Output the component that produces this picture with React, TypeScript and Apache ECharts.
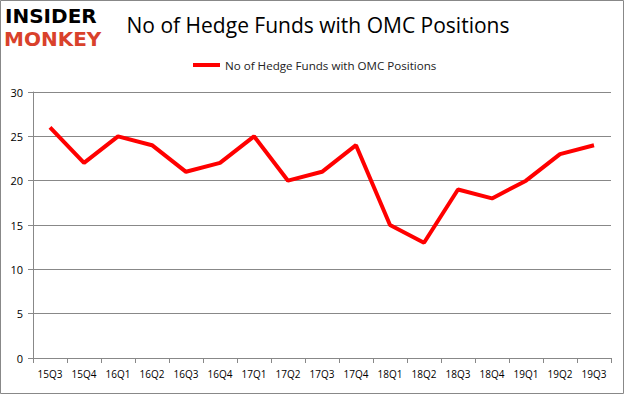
import React, { useEffect, useRef } from "react";
import * as echarts from "echarts";

const categories = ["15Q3","15Q4","16Q1","16Q2","16Q3","16Q4","17Q1","17Q2","17Q3","17Q4","18Q1","18Q2","18Q3","18Q4","19Q1","19Q2","19Q3"];
const hedgeFunds = [26, 22, 25, 24, 21, 22, 25, 20, 21, 24, 15, 13, 19, 18, 20, 23, 24];
const seriesName = "No of Hedge Funds with OMC Positions";
const titleText = "No of Hedge Funds with OMC Positions";

export default function App() {
  const ref = useRef<HTMLDivElement>(null);
  useEffect(() => {
    const chart = echarts.init(ref.current!, null, { renderer: "svg" });
    chart.setOption({
      animation: false,
      backgroundColor: "#fff",
      textStyle: { fontFamily: "Open Sans" },
      title: {
        text: titleText,
        left: 313,
        textAlign: "center",
        top: 9,
        textStyle: { fontFamily: "Open Sans", fontSize: 21, fontWeight: "normal", color: "#000" },
      },
      legend: {
        data: [seriesName],
        top: 54,
        left: 188,
        itemWidth: 27,
        itemHeight: 4,
        itemGap: 6,
        icon: "rect",
        textStyle: { fontFamily: "Open Sans", fontSize: 11.6, color: "#222" },
      },
      grid: { left: 33, right: 14, top: 92, bottom: 37 },
      xAxis: {
        type: "category",
        data: categories,
        boundaryGap: true,
        axisLine: { lineStyle: { color: "#888" } },
        axisTick: { show: true, alignWithLabel: false, interval: 0, length: 5, lineStyle: { color: "#888" } },
        axisLabel: { color: "#000", fontFamily: "Open Sans", fontSize: 10, margin: 11, interval: 0 },
      },
      yAxis: {
        type: "value",
        min: 0,
        max: 30,
        interval: 5,
        axisLine: { show: true, lineStyle: { color: "#888" } },
        axisTick: { show: true, length: 5, lineStyle: { color: "#888" } },
        axisLabel: { color: "#000", fontFamily: "Open Sans", fontSize: 11, margin: 10 },
        splitLine: { lineStyle: { color: "#888" } },
      },
      series: [
        {
          name: seriesName,
          type: "line",
          data: hedgeFunds,
          symbol: "none",
          lineStyle: { color: "#ff0000", width: 4 },
          itemStyle: { color: "#ff0000" },
        },
      ],
      graphic: [
        {
          type: "rect",
          shape: { x: 0.5, y: 0.5, width: 623, height: 393 },
          style: { fill: "none", stroke: "#888", lineWidth: 1 },
        },
        {
          type: "text",
          x: 5,
          y: 5,
          style: { text: "INSIDER", fontFamily: "DejaVu Sans", fontWeight: "bold", fontSize: 20, lineHeight: 22, fill: "#000" },
        },
        {
          type: "text",
          x: 4,
          y: 28,
          style: { text: "MONKEY", fontFamily: "DejaVu Sans", fontWeight: "bold", fontSize: 20, lineHeight: 22, fill: "#d9412b" },
        },
      ],
    });
    return () => chart.dispose();
  }, []);
  return <div ref={ref} style={{ width: 625, height: 395, position: "absolute", left: 0, top: 0 }} />;
}
